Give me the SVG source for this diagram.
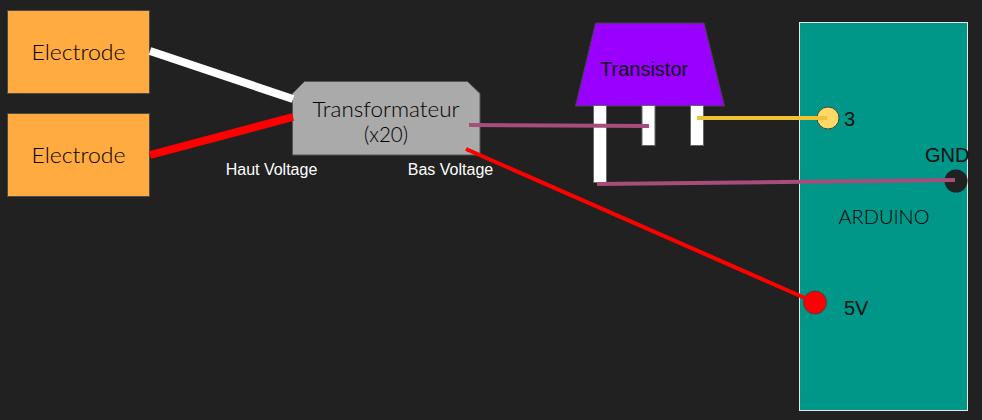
<svg xmlns="http://www.w3.org/2000/svg" width="982" height="420" viewBox="0 0 982 420">
<style>
.g{font-family:"Lato","Liberation Sans",sans-serif;font-weight:300;fill:#000;text-anchor:middle}
.a{font-family:"Liberation Sans",Arial,sans-serif;fill:#111;font-size:20px}
.w{font-family:"Liberation Sans",Arial,sans-serif;fill:#fff;font-size:16px;text-anchor:middle}
.box{fill:#ffab40;stroke:#4a4a4a;stroke-width:1}
.pin{fill:#fff;stroke:#666;stroke-width:1}
.pad{stroke:#444;stroke-width:1}
.c{fill:none}
</style>
<rect width="982" height="420" fill="#212121"/>
<g id="electrode-1"><rect class="box" x="7.500" y="10.500" width="142" height="83"/><text class="g" x="78.500" y="60" font-size="21" textLength="94" lengthAdjust="spacingAndGlyphs">Electrode</text></g>
<g id="electrode-2"><rect class="box" x="7.500" y="113.500" width="142" height="83"/><text class="g" x="78.500" y="163" font-size="21" textLength="94" lengthAdjust="spacingAndGlyphs">Electrode</text></g>
<g id="transformateur"><path d="M292.500 93.500L304.500 81.500H467.500L480 93.500V155H292.500Z" fill="#aaa" stroke="#555"/><text class="g" x="386" y="117" font-size="21" textLength="147" lengthAdjust="spacingAndGlyphs">Transformateur</text><text class="g" x="386" y="142" font-size="21" textLength="44" lengthAdjust="spacingAndGlyphs">(x20)</text></g>
<g id="transistor"><path d="M595.500 23H704L724.500 106H575.500Z" fill="#9900ff" stroke="#444"/><rect class="pin" x="593.500" y="105.500" width="13" height="77"/><rect class="pin" x="642" y="105.500" width="13" height="40"/><rect class="pin" x="690.500" y="105.500" width="13" height="40"/><text class="a" x="600" y="76">Transistor</text></g>
<g id="arduino"><rect x="799.500" y="22.500" width="168" height="388" fill="#009688" stroke="#e8e8e8"/><text class="g" x="884" y="224" font-size="19" textLength="91" lengthAdjust="spacingAndGlyphs">ARDUINO</text></g>
<g id="pin-3"><circle class="pad" cx="828" cy="118" r="11" fill="#ffd966"/><text class="a" x="844" y="126">3</text></g>
<g id="pin-gnd"><circle cx="956" cy="181" r="11.500" fill="#212121"/><text class="a" x="925" y="162">GND</text></g>
<g id="pin-5v"><circle class="pad" cx="815" cy="302.500" r="11.500" fill="#f00"/><text class="a" x="844" y="315">5V</text></g>
<g id="labels"><text class="w" x="271.500" y="175">Haut Voltage</text><text class="w" x="450.500" y="175">Bas Voltage</text></g>
<g id="connectors" class="c">
<path d="M150 51L293 99" stroke="#fff" stroke-width="8"/>
<path d="M150 155L293 117" stroke="#f00" stroke-width="8"/>
<path d="M469 125L649 126" stroke="#a64d79" stroke-width="4"/>
<path d="M466 149L805 298" stroke="#f00" stroke-width="4"/>
<path d="M697 118H827" stroke="#f1c232" stroke-width="4"/>
<path d="M597 184L955 180" stroke="#a64d79" stroke-width="4"/>
</g>
</svg>
